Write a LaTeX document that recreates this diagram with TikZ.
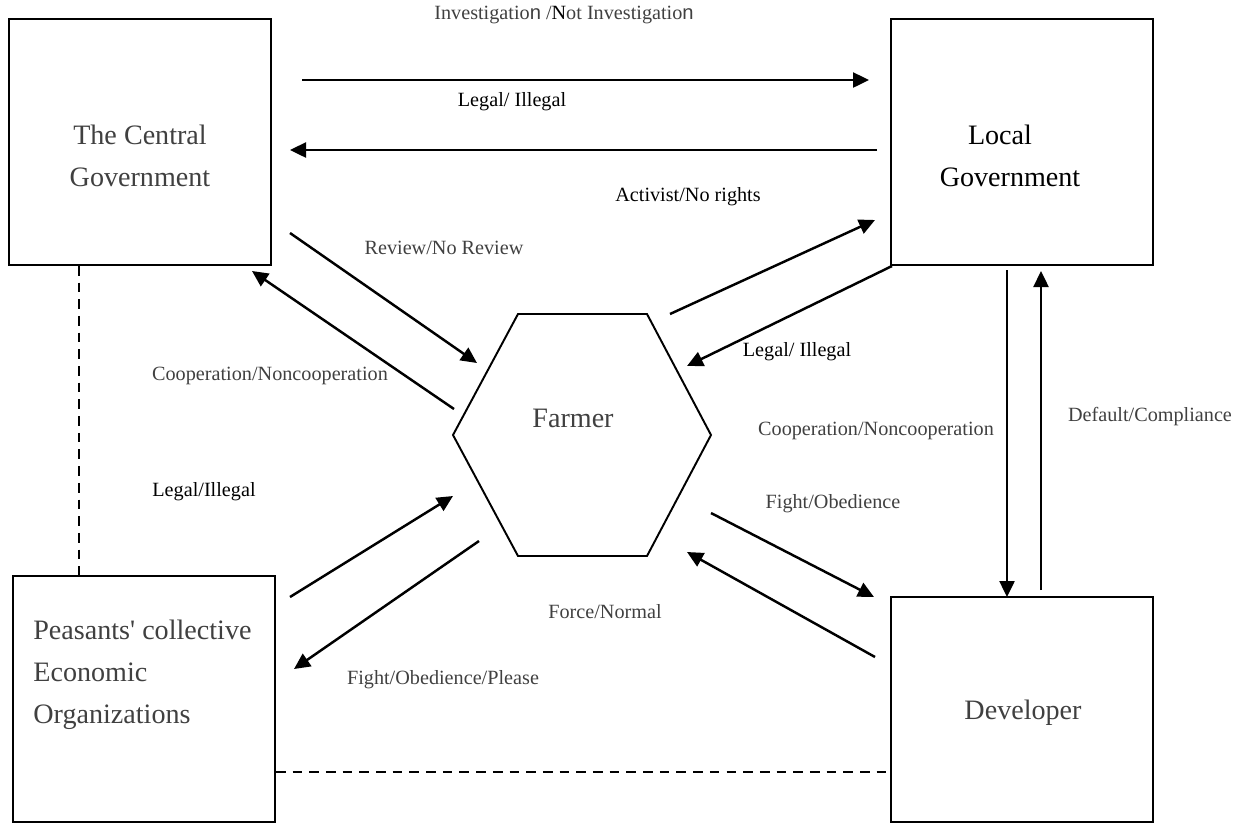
\documentclass[tikz,border=0pt]{standalone}
\usepackage{fontspec}
\setmainfont{Liberation Serif}
\newfontfamily\sanstext{Liberation Sans}
\usetikzlibrary{arrows.meta}

\definecolor{textgray}{RGB}{64,64,64}

\tikzset{
  agentbox/.style={draw, line width=1pt, inner sep=0pt, minimum width=5.24cm},
  agenttext/.style={font=\fontsize{16}{24}\selectfont, text=textgray, inner sep=0pt},
  flow/.style={line width=1.4pt, -{Triangle[length=0.32cm,width=0.3cm]}},
  tie/.style={line width=0.9pt, dash pattern=on 5.5pt off 4pt},
  lbl/.style={font=\fontsize{11.5}{14}\selectfont, text=textgray, inner sep=0pt},
  lblblack/.style={lbl, text=black},
}

\begin{document}
\begin{tikzpicture}[x=0.02cm, y=-0.02cm]
\useasboundingbox (0,0) rectangle (1241,823);

% boxes
\node[agentbox, minimum height=4.92cm] (central) at (140,142) {};
\node[agentbox, minimum height=4.92cm] (local) at (1022,142) {};
\node[agentbox, minimum height=4.92cm] (peasants) at (144,699) {};
\node[agentbox, minimum height=4.5cm] (developer) at (1022,709.5) {};

\node[agenttext, align=center] (centraltext) at (140,156) {The Central\\Government};
\node[agenttext, align=center, text=black] (localtext) at (1010,156) {Local\hspace*{0.4cm}\\Government};
\node[agenttext, align=left, anchor=west] (peasantstext) at (33,675) {Peasants\textquotesingle{} collective\\Economic\\Organizations};
\node[agenttext] (developertext) at (1023,713) {Developer};

% farmer hexagon
\draw[line width=1.1pt] (518,314) -- (647,314) -- (711,435) -- (647,556) -- (518,556) -- (453,435) -- cycle;
\node[agenttext] (farmer) at (573,418) {Farmer};

% arrow ends
\coordinate (c1) at (302,80);   \coordinate (l1) at (869,80);
\coordinate (l2) at (877,150);  \coordinate (c2) at (290,150);
\coordinate (c3) at (290,233);  \coordinate (f3) at (477,363);
\coordinate (f4) at (454,409);  \coordinate (c4) at (252,271);
\coordinate (f5) at (670,314);  \coordinate (l5) at (875,220);
\coordinate (l6) at (892,266);  \coordinate (f6) at (687,366);
\coordinate (p7) at (290,597);  \coordinate (f7) at (453,496);
\coordinate (f8) at (479,541);  \coordinate (p8) at (294,669);
\coordinate (f9) at (711,513);  \coordinate (d9) at (874,597);
\coordinate (d10) at (875,657); \coordinate (f10) at (687,552);
\coordinate (l11) at (1007,270); \coordinate (d11) at (1007,597);
\coordinate (d12) at (1041,590); \coordinate (l12) at (1041,271);

\draw[flow] (c1) -- (l1);
\draw[flow] (l2) -- (c2);
\draw[flow] (c3) -- (f3);
\draw[flow] (f4) -- (c4);
\draw[flow] (f5) -- (l5);
\draw[flow] (l6) -- (f6);
\draw[flow] (p7) -- (f7);
\draw[flow] (f8) -- (p8);
\draw[flow] (f9) -- (d9);
\draw[flow] (d10) -- (f10);
\draw[flow] (l11) -- (d11);
\draw[flow] (d12) -- (l12);

% dashed ties
\draw[tie] (central.south -| 79,0) -- (peasants.north -| 79,0);
\draw[tie] (peasants.east |- 0,772) -- (developer.west |- 0,772);

% labels
\node[lbl] (investlbl) at (564,15) {Investigatio{\sanstext n} /{\color{black}N}ot Investigatio{\sanstext n}};
\node[lblblack] (legaltoplbl) at (512,102) {Legal/ Illegal};
\node[lblblack] (activistlbl) at (688,197) {Activist/No rights};
\node[lbl] (reviewlbl) at (444,248) {Review/No Review};
\node[lbl] (cooplbl) at (270,376) {Cooperation/Noncooperation};
\node[lblblack] (legalleftlbl) at (204,492) {Legal/Illegal};
\node[lblblack] (legalrightlbl) at (797,352) {Legal/ Illegal};
\node[lbl] (coopright) at (876,431) {Cooperation/Noncooperation};
\node[lbl] (defaultlbl) at (1150,417) {Default/Compliance};
\node[lbl] (fightlbl) at (833,504) {Fight/Obedience};
\node[lbl] (forcelbl) at (605,612) {Force/Normal};
\node[lbl] (pleaselbl) at (443,680) {Fight/Obedience/Please};
\end{tikzpicture}
\end{document}
